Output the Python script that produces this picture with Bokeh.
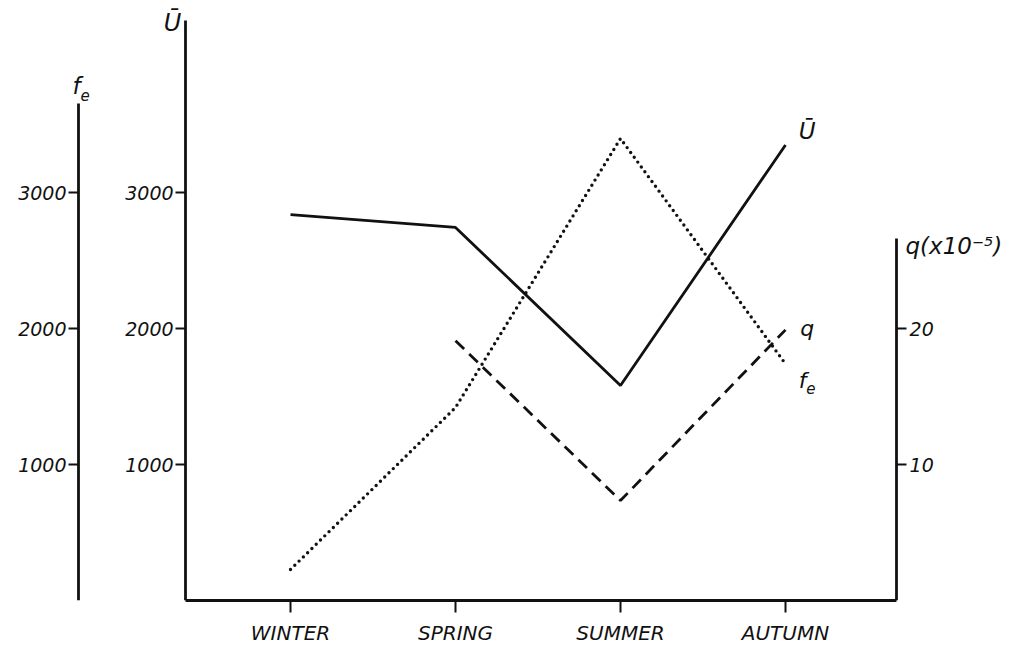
from bokeh.plotting import figure
from bokeh.models import Range1d, LinearAxis, FixedTicker, Label
from bokeh.embed import file_html
from bokeh.resources import INLINE

# ---- data ----
seasons = ["WINTER", "SPRING", "SUMMER", "AUTUMN"]
season_x = [0, 1, 2, 3]
u_bar = [2838, 2743, 1581, 3350]          # solid line, left inner axis
f_e = [228, 1419, 3397, 1740]              # dotted line, left outer axis
q_x = [1, 2, 3]
q_vals = [19.1, 7.35, 19.9]                # dashed line, right axis (x10^-5)
left_ticks = [1000, 2000, 3000]
q_ticks = [10, 20]

FONT = "DejaVu Sans"
INK = "#111111"
W, H = 1015, 647

# frame spans the whole canvas width and everything above the season axis;
# axes are pinned at fixed data locations
X0, X1 = -1.7576, 4.3939
U_AX, FE_AX, Q_AX = -0.636, -1.2848, 3.673

p = figure(width=W, height=H,
           x_range=Range1d(X0, X1), y_range=Range1d(0, 4412),
           output_backend="svg", toolbar_location=None,
           min_border_left=0, min_border_right=0,
           min_border_top=0, min_border_bottom=47,
           x_axis_location=None, y_axis_location=None)
p.extra_y_ranges = {"fe": Range1d(0, 4412), "q": Range1d(0, 44.12)}
p.grid.visible = False
p.outline_line_color = None
p.background_fill_color = "white"
p.border_fill_color = "white"


def style(ax, size="19px"):
    ax.axis_line_color = INK
    ax.axis_line_width = 2.8
    ax.major_tick_line_color = INK
    ax.major_tick_line_width = 2
    ax.major_tick_out = 10
    ax.major_tick_in = 0
    ax.minor_tick_out = 0
    ax.minor_tick_in = 0
    ax.major_label_text_font = FONT
    ax.major_label_text_font_style = "italic"
    ax.major_label_text_font_size = size
    ax.major_label_text_color = INK
    ax.major_label_standoff = 2


u_axis = LinearAxis(ticker=FixedTicker(ticks=left_ticks), bounds=(0, 4265),
                    fixed_location=U_AX)
style(u_axis)
p.add_layout(u_axis, "left")

fe_axis = LinearAxis(y_range_name="fe", ticker=FixedTicker(ticks=left_ticks),
                     bounds=(0, 3654), fixed_location=FE_AX)
style(fe_axis)
p.add_layout(fe_axis, "left")

q_axis = LinearAxis(y_range_name="q", ticker=FixedTicker(ticks=q_ticks),
                    bounds=(0, 26.6), fixed_location=Q_AX)
style(q_axis)
q_axis.major_label_standoff = 3
p.add_layout(q_axis, "right")

x_axis = LinearAxis(ticker=FixedTicker(ticks=season_x), bounds=(U_AX, Q_AX),
                    major_label_overrides={i: s for i, s in zip(season_x, seasons)})
style(x_axis, size="20px")
x_axis.major_tick_out = 12
x_axis.major_label_standoff = 8
p.add_layout(x_axis, "below")

# series
p.line(season_x, u_bar, line_color=INK, line_width=2.8)
p.line(season_x, f_e, y_range_name="fe", line_color=INK, line_width=3.4,
       line_dash="0 6", line_cap="round")
p.line(q_x, q_vals, y_range_name="q", line_color=INK, line_width=2.8,
       line_dash="12 7")


def lab(x, y, text, size="21px", rng="default", align="left", baseline="middle"):
    p.add_layout(Label(x=x, y=y, y_range_name=rng, text=text,
                       text_font=FONT, text_font_style="italic",
                       text_font_size=size, text_color=INK,
                       text_align=align, text_baseline=baseline))


# axis titles
lab(-0.715, 4250, "Ū", size="24px", align="center")
lab(-1.297, 3780, "f", size="23px", align="center")
lab(-1.245, 3714, "e", size="15px", align="center")
lab(3.727, 2610, "q(x10⁻⁵)", size="23px")

# curve labels
lab(3.08, 3450, "Ū", size="23px")
lab(3.09, 2000, "q", size="22px")
lab(3.08, 1620, "f", size="22px")
lab(3.125, 1560, "e", size="15px")

open("out.html", "w").write(file_html(p, INLINE))
